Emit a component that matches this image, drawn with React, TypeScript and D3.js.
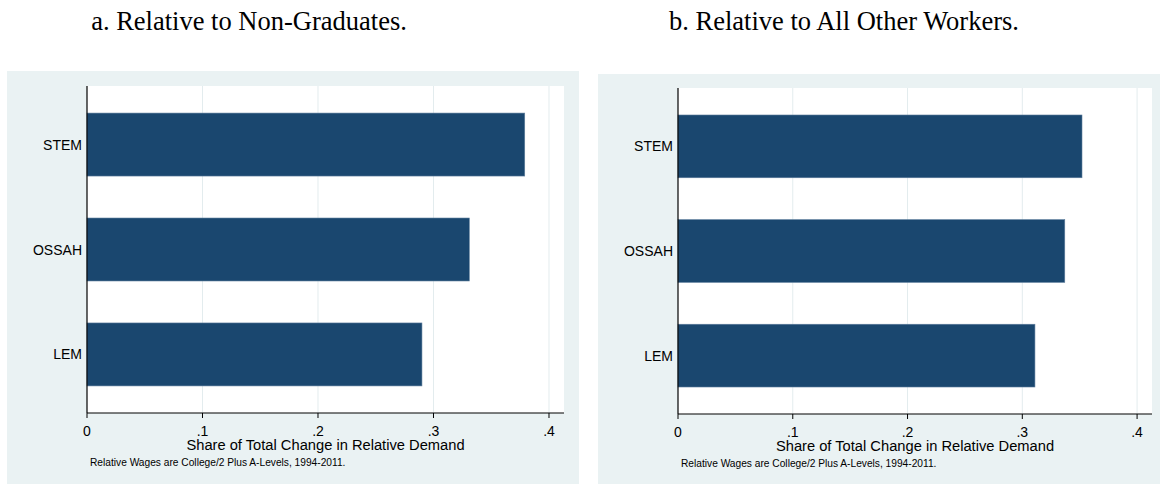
import React from "react";
import * as d3 from "d3";

const categories = ["STEM", "OSSAH", "LEM"];
const valuesNonGrad = [0.379, 0.331, 0.29];
const valuesAllOther = [0.352, 0.337, 0.311];
const xTicks = [0, 0.1, 0.2, 0.3, 0.4];
const tickLabels = ["0", ".1", ".2", ".3", ".4"];
const xTitle = "Share of Total Change in Relative Demand";
const note = "Relative Wages are College/2 Plus A-Levels, 1994-2011.";
const titles = ["a. Relative to Non-Graduates.", "b. Relative to All Other Workers."];

const BG = "#eaf2f3";
const BAR = "#1a476f";
const SANS = "'Liberation Sans', Arial, sans-serif";
const SERIF = "'Liberation Serif', 'Times New Roman', serif";

type PanelProps = {
  values: number[];
  bg: [number, number, number, number];
  plot: [number, number, number, number];
};

function Panel({ values, bg, plot }: PanelProps) {
  const [bx0, by0, bx1, by1] = bg;
  const [px0, py0, px1, py1] = plot;
  const x = d3.scaleLinear().domain([0, 0.413]).range([px0, px1]);
  const y = d3
    .scaleBand<string>()
    .domain(categories)
    .range([py0, py1])
    .paddingInner(0.4)
    .paddingOuter(0.258);
  return (
    <g>
      <rect x={bx0} y={by0} width={bx1 - bx0} height={by1 - by0} fill={BG} />
      <rect x={px0} y={py0} width={px1 - px0} height={py1 - py0} fill="#ffffff" />
      {xTicks.slice(1).map((t) => (
        <line key={t} x1={x(t)} x2={x(t)} y1={py0} y2={py1} stroke="#e3ecee" strokeWidth={1} />
      ))}
      {categories.map((c, i) => (
        <rect
          key={c}
          x={x(0)}
          y={y(c)}
          width={x(values[i]) - x(0)}
          height={y.bandwidth()}
          fill={BAR}
          stroke="#5d7d9c"
          strokeWidth={0.6}
        />
      ))}
      <line x1={px0} x2={px0} y1={py0} y2={py1} stroke="#000" strokeWidth={1.2} />
      <line x1={px0} x2={px1} y1={py1} y2={py1} stroke="#000" strokeWidth={1.2} />
      {xTicks.map((t, i) => (
        <g key={t}>
          <line x1={x(t)} x2={x(t)} y1={py1} y2={py1 + 5} stroke="#000" strokeWidth={1} />
          <text
            x={x(t)}
            y={py1 + 23}
            textAnchor="middle"
            fontFamily={SANS}
            fontSize={14}
            fill="#000"
          >
            {tickLabels[i]}
          </text>
        </g>
      ))}
      {categories.map((c) => (
        <text
          key={c}
          x={px0 - 5}
          y={(y(c) as number) + y.bandwidth() / 2 + 5}
          textAnchor="end"
          fontFamily={SANS}
          fontSize={14}
          fill="#000"
        >
          {c}
        </text>
      ))}
      <text
        x={(px0 + px1) / 2}
        y={py1 + 37}
        textAnchor="middle"
        fontFamily={SANS}
        fontSize={14.7}
        fill="#000"
      >
        {xTitle}
      </text>
      <text x={px0 + 3} y={py1 + 53} fontFamily={SANS} fontSize={10.2} fill="#000">
        {note}
      </text>
    </g>
  );
}

export default function App() {
  return (
    <svg
      width={1160}
      height={484}
      style={{ position: "absolute", left: 0, top: 0, background: "#fff" }}
    >
      <text x={249} y={30} textAnchor="middle" fontFamily={SERIF} fontSize={26.5} fill="#000">
        {titles[0]}
      </text>
      <text x={844} y={30} textAnchor="middle" fontFamily={SERIF} fontSize={26.5} fill="#000">
        {titles[1]}
      </text>
      <Panel values={valuesNonGrad} bg={[7, 71, 579, 484]} plot={[87, 86, 564, 413]} />
      <Panel values={valuesAllOther} bg={[598, 74, 1160, 484]} plot={[678, 88, 1152, 414]} />
    </svg>
  );
}
